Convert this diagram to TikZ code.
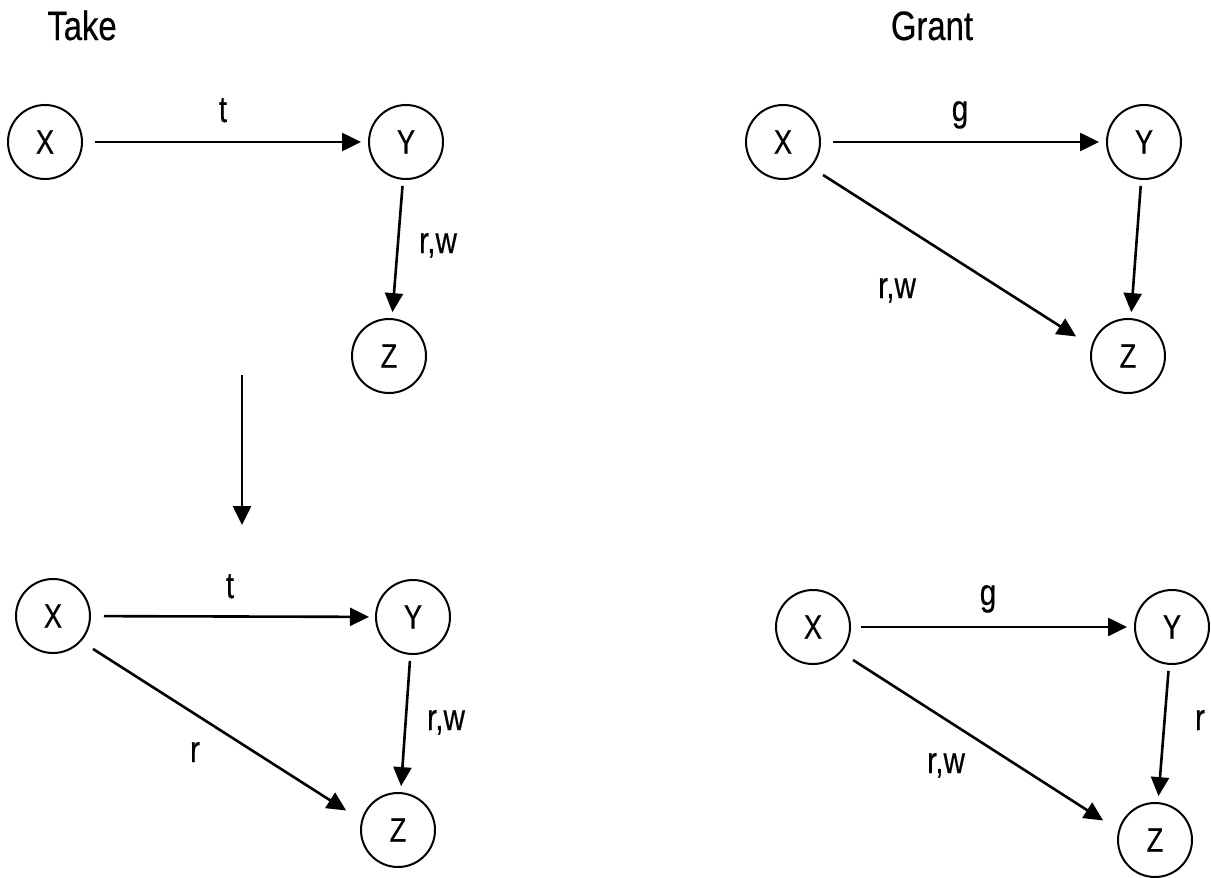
\documentclass[tikz,border=0pt]{standalone}
\usepackage{fontspec}
\setmainfont{Liberation Sans}[FakeStretch=0.8,FakeBold=0.4]
\usetikzlibrary{arrows.meta}
\begin{document}
\begin{tikzpicture}[x=1pt,y=-1pt,
  state/.style={circle,draw,line width=2pt,minimum size=74pt,inner sep=0pt,font=\fontsize{34}{38}\selectfont},
  arr/.style={line width=2.6pt,-{Triangle[length=19pt,width=18pt]}},
  lbl/.style={anchor=base,inner sep=0pt,font=\fontsize{37}{42}\selectfont},
  ttl/.style={anchor=base,inner sep=0pt,font=\fontsize{41}{46}\selectfont},
  hz/.style={arr,shorten <=12pt,shorten >=7pt},
  vt/.style={arr,shorten <=6pt,shorten >=6pt},
  dg/.style={arr,shorten <=14pt,shorten >=18pt}]
\useasboundingbox (0,0) rectangle (1211,878);
% titles
\node[ttl] (take) at (82,40) {Take};
\node[ttl] (grant) at (932,40) {Grant};
% top-left
\node[state] (X1) at (45,142) {X};
\node[state] (Y1) at (406,142) {Y};
\node[state] (Z1) at (389,356) {Z};
\draw[hz] (X1) -- (Y1);
\draw[vt] (Y1) -- (Z1);
\node[lbl] (t1) at (223,122) {t};
\node[lbl] (rw1) at (438,253) {r,w};
% top-right
\node[state] (X2) at (783,142) {X};
\node[state] (Y2) at (1144,142) {Y};
\node[state] (Z2) at (1128,356) {Z};
\draw[hz] (X2) -- (Y2);
\draw[vt] (Y2) -- (Z2);
\draw[dg] (X2.-42) -- (Z2.165);
\node[lbl] (g2) at (960,121) {g};
\node[lbl] (rw2) at (897,298) {r,w};
% transition arrow
\coordinate (d1) at (242,375);
\coordinate (d2) at (242,525);
\draw[arr] (d1) -- (d2);
% bottom-left
\node[state] (X3) at (53,616) {X};
\node[state] (Y3) at (413,617) {Y};
\node[state] (Z3) at (398,830) {Z};
\draw[hz,shorten <=13pt,shorten >=6pt] (X3) -- (Y3);
\draw[vt] (Y3) -- (Z3);
\draw[dg] (X3.-42) -- (Z3.165);
\node[lbl] (t3) at (230,598) {t};
\node[lbl] (rw3) at (446,730) {r,w};
\node[lbl] (r3) at (195,762) {r};
% bottom-right
\node[state] (X4) at (813,627) {X};
\node[state] (Y4) at (1172,627) {Y};
\node[state] (Z4) at (1155,840) {Z};
\draw[hz,shorten <=10pt] (X4) -- (Y4);
\draw[vt] (Y4) -- (Z4);
\draw[dg] (X4.-42) -- (Z4.165);
\node[lbl] (g4) at (988,605) {g};
\node[lbl] (rw4) at (946,773) {r,w};
\node[lbl] (r4) at (1200,730) {r};
\end{tikzpicture}
\end{document}
